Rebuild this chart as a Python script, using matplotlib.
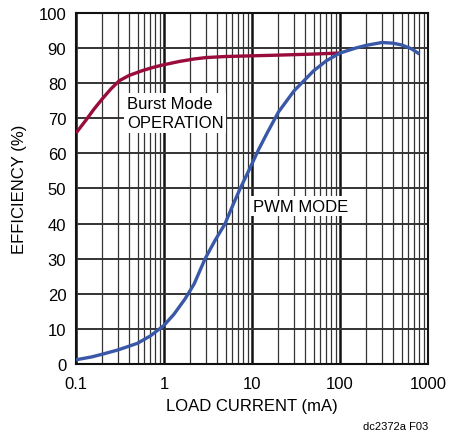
import matplotlib
matplotlib.use("Agg")
import matplotlib.pyplot as plt
from matplotlib import font_manager
from matplotlib.ticker import LogLocator, NullFormatter, FixedLocator, FixedFormatter

names = {f.name for f in font_manager.fontManager.ttflist}
fam = 'Liberation Sans Narrow' if 'Liberation Sans Narrow' in names else 'Liberation Sans'
plt.rcParams['font.family'] = [fam, 'DejaVu Sans']

# burst mode operation
burst_i = [0.1, 0.13, 0.16, 0.2, 0.25, 0.31, 0.4, 0.57, 0.75, 0.97, 1.5, 2.2, 3, 5, 10, 20, 50, 100]
burst_eff = [65.8, 69.5, 72.6, 75.6, 78.4, 80.7, 82.2, 83.6, 84.5, 85.2, 86.2, 86.9, 87.3, 87.6, 87.8, 88.0, 88.3, 88.6]

# pwm mode
pwm_i = [0.1, 0.15, 0.2, 0.3, 0.5, 0.7, 1, 1.3, 1.73, 2.2, 2.92, 3.8, 4.93, 6, 7.31, 9, 12, 15, 20, 30, 50, 70, 100, 150, 200, 300, 400, 500, 650, 800]
pwm_eff = [1.2, 2.0, 2.8, 4.0, 5.9, 8.0, 11.0, 14.2, 18.5, 22.8, 29.9, 35.2, 39.9, 45.0, 49.9, 54.6, 61.3, 66.0, 71.8, 77.8, 83.5, 86.4, 88.6, 90.0, 90.8, 91.6, 91.4, 90.9, 89.8, 88.3]

xticks = [0.1, 1, 10, 100, 1000]
xlabels = ['0.1', '1', '10', '100', '1000']
yticks = list(range(0, 101, 10))

fig = plt.figure(figsize=(4.51, 4.39), dpi=100)
ax = fig.add_axes([0.1685, 0.1686, 0.7805, 0.7995])
ax.set_xscale('log')
ax.set_xlim(0.1, 1000)
ax.set_ylim(0, 100)

ax.xaxis.set_major_locator(FixedLocator(xticks))
ax.xaxis.set_major_formatter(FixedFormatter(xlabels))
ax.xaxis.set_minor_locator(LogLocator(base=10, subs=range(2, 10)))
ax.xaxis.set_minor_formatter(NullFormatter())
ax.set_yticks(yticks)

ax.grid(True, which='major', axis='x', color='#111111', linewidth=1.8)
ax.grid(True, which='major', axis='y', color='#333333', linewidth=1.4)
ax.grid(True, which='minor', axis='x', color='#333333', linewidth=0.9)
ax.tick_params(which='both', length=0, labelsize=12)
ax.tick_params(axis='x', pad=9)
ax.tick_params(axis='y', pad=7)
for s in ax.spines.values():
    s.set_linewidth(1.5)
    s.set_color('#111111')

ax.plot(burst_i, burst_eff, color='#9a0c3c', linewidth=2.4, solid_capstyle='butt', zorder=3)
ax.plot(pwm_i, pwm_eff, color='#3a58a8', linewidth=2.4, solid_capstyle='butt', zorder=3)

box = dict(facecolor='white', edgecolor='none', pad=2)
ax.text(0.38, 71.5, 'Burst Mode\nOPERATION', ha='left', va='center', fontsize=12,
        linespacing=1.3, bbox=box, zorder=4)
ax.text(10.3, 45, 'PWM MODE', ha='left', va='center', fontsize=12, bbox=box, zorder=4)

ax.set_xlabel('LOAD CURRENT (mA)', fontsize=12, labelpad=5)
ax.set_ylabel('EFFICIENCY (%)', fontsize=12, labelpad=8)
fig.text(0.95, 0.027, 'dc2372a F03', ha='right', va='center', fontsize=8)

fig.savefig('out.png', dpi=100)
